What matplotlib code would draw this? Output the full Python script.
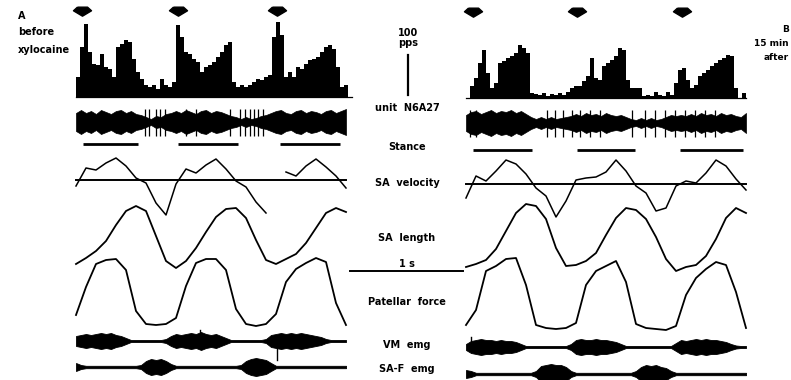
import numpy as np
import matplotlib.pyplot as plt

#%% Data

PX_PER_S = 113.0            # chart speed: 1 s scale bar
PX_PER_PPS = 0.4            # 100 pps scale bar
BIN_DT = 4 / PX_PER_S       # rate histogram bin
CURVE_DT = 10 / PX_PER_S    # sampling of slow traces
EMG_DT = 5 / PX_PER_S       # sampling of emg envelopes

# foot contact markers, s
contact_A = [0.053, 0.903, 1.779]
contact_B = [0.062, 0.982, 1.912]

# stance phases (on, off), s
stance_A = [(0.062, 0.549), (0.903, 1.434), (1.805, 2.336)]
stance_B = [(0.062, 0.584), (0.982, 1.496), (1.894, 2.451)]

# instantaneous firing rate of unit N6A27, pps
rate_A = [50, 125, 182, 112, 82, 80, 108, 75, 70, 50,
          125, 132, 142, 138, 95, 62, 45, 30, 25, 30,
          20, 45, 30, 25, 38, 180, 150, 112, 108, 95,
          88, 62, 75, 80, 88, 100, 112, 130, 138, 38,
          25, 30, 25, 30, 38, 45, 42, 50, 55, 150,
          188, 155, 50, 62, 50, 75, 70, 82, 92, 95,
          100, 112, 125, 130, 120, 75, 25, 30, 0]
rate_B = [0, 30, 50, 88, 120, 62, 25, 38, 88, 92,
          100, 105, 112, 132, 125, 112, 12, 10, 8, 12,
          5, 10, 8, 12, 8, 15, 25, 30, 30, 42,
          55, 100, 50, 45, 80, 88, 95, 105, 125, 120,
          45, 25, 25, 25, 5, 8, 5, 15, 8, 5,
          15, 8, 38, 70, 75, 45, 25, 32, 55, 62,
          70, 80, 88, 95, 100, 108, 105, 25, 0, 12]

# unit record envelope (half height) and isolated spikes
unit_A = [9, 12, 9, 11, 8, 12, 10, 8, 11, 12, 9, 11, 8, 7,
          5, 3, 6, 5, 8,
          9, 11, 9, 12, 10, 8, 11, 12, 9, 11, 10, 8,
          6,
          5, 3, 5, 3, 4, 6,
          7,
          9, 11, 12, 9, 8, 11, 12, 9, 11, 10, 8, 11, 12, 9, 11, 13]
unit_B = [8, 11, 12, 9, 11, 13, 10, 12, 11, 13, 10, 12, 9,
          6, 4, 6, 4, 6, 4, 5, 6,
          7, 9, 7, 10, 8, 9, 7, 10, 8, 7, 8, 6,
          4, 3, 5, 3, 5, 3, 4,
          6, 8, 7, 8, 7, 9, 7, 10, 8, 9, 7, 10, 8, 9, 7, 6, 10]
unit_spikes_A = [0.611, 0.646, 0.708, 0.743, 0.788, 0.973, 1.062, 1.363,
                 1.451, 1.496, 1.540, 1.575, 1.611, 1.655]
unit_spikes_B = [0.035, 0.088, 0.717, 0.788, 0.858, 0.938, 1.009, 1.097,
                 1.186, 1.469, 1.584, 1.673, 1.761, 1.850, 1.938, 2.027,
                 2.115, 2.204]

# SA velocity, SA length, patellar force (deflection, arbitrary units)
velocity_A = [-6, 12, 10, 17, 22, 14, 2, -3, -23, -35, -4, 11, 7, 15, 21,
              11, -1, -7, -22, -33, np.nan, 8, 4, 14, 21, 13, 4, -8]
velocity_B = [-14, 8, 3, 13, 24, 20, 10, -4, -12, -33, -17, 4, 6, 7, 12,
              24, 13, -2, -9, -27, -24, -2, 3, 1, 11, 24, 18, 5, -6]
length_A = [6, 12, 19, 29, 45, 59, 64, 59, 34, 9, 2, 9, 22, 38, 53, 61, 62,
            52, 30, 10, 6, 11, 16, 27, 42, 57, 62, 58]
length_B = [3, 6, 10, 21, 39, 57, 66, 64, 51, 22, 4, 5, 9, 17, 35, 52, 62,
            60, 51, 33, 11, -1, 3, 5, 14, 31, 52, 62, 57]
force_A = [15, 43, 66, 70, 71, 60, 19, 6, 5, 6, 12, 44, 67, 71, 71, 60, 21,
           6, 4, 6, 16, 48, 61, 67, 72, 68, 27, 5]
force_B = [5, 20, 59, 64, 71, 72, 45, 5, 2, 1, 2, 7, 45, 59, 64, 69, 48, 6,
           2, 1, 0, 4, 35, 52, 61, 68, 65, 38, 2]

# emg envelopes (half height)
vm_A = [5, 6, 7, 6, 7, 8, 7, 8, 6, 5, 3,
        1, 1, 1, 1, 1, 1, 1, 2,
        5, 7, 6, 7, 8, 7, 9, 7, 6, 7, 5, 3,
        1, 1, 1, 1, 1, 1, 1, 2,
        6, 7, 8, 7, 8, 7, 8, 7, 6, 5, 4, 2,
        1, 1, 1, 1]
vm_B = [3, 6, 7, 8, 7, 7, 6, 7, 6, 6, 5, 3, 1,
        1, 1, 1, 1, 1, 1, 1, 1,
        3, 7, 8, 7, 7, 8, 7, 7, 6, 5, 3,
        1, 1, 1, 1, 1, 1, 1, 1, 1, 1,
        4, 7, 6, 7, 8, 7, 8, 7, 7, 6, 5, 3,
        1.5, 1, 1]
vm_spikes_A = [(1.097, 11), (1.779, -19)]
vm_spikes_B = [(0.044, 10)]
saf_A = [4, 2, 1.2, 1.2, 1.2, 1.2, 1.2, 1.2, 1.2, 1.2, 1.2, 1.2, 1.2,
         2, 6, 8, 7, 8, 6, 3,
         1.2, 1.2, 1.2, 1.2, 1.2, 1.2, 1.2, 1.2, 1.2, 1.2, 1.2, 1.2, 1.2,
         2, 6, 8, 9, 8, 7, 4,
         1.2, 1.2, 1.2, 1.2, 1.2, 1.2, 1.2, 1.2, 1.2, 1.2, 1.2, 1.2, 1.2, 1.2, 1.2]
saf_B = [4, 3, 1.2, 1.2, 1.2, 1.2, 1.2, 1.2, 1.2, 1.2, 1.2, 1.2, 1.2, 1.2,
         3, 8, 9, 10, 9, 9, 7, 3,
         1.2, 1.2, 1.2, 1.2, 1.2, 1.2, 1.2, 1.2, 1.2, 1.2, 1.2, 1.2,
         3, 7, 9, 8, 9, 7, 6, 3,
         1.2, 1.2, 1.2, 1.2, 1.2, 1.2, 1.2, 1.2, 1.2, 1.2, 1.2, 1.2, 1.2, 1.2, 1.2]

trace_labels = ['unit  N6A27', 'Stance', 'SA  velocity', 'SA  length',
                'Patellar  force', 'VM  emg', 'SA-F  emg']

#%% Layout (pixels of the 791 x 380 figure)

W, H = 791, 380
rows_A = dict(arrow=11, hist=97, unit=122, stance=144, velocity=180,
              length=270, force=330, vm=341, saf=367)
rows_B = dict(arrow=12, hist=98, unit=123, stance=150, velocity=184,
              length=270, force=330, vm=347, saf=374)
label_y = [108, 147, 183, 238, 302, 345, 369]

# downward pointing foot-contact marker, wider than tall
arrow_verts = [(-0.28, 0.24), (0.28, 0.24), (0.5, 0.04), (0, -0.26),
               (-0.5, 0.04), (-0.28, 0.24)]

fig = plt.figure(figsize=(W / 100, H / 100), dpi=100)
fig.patch.set_facecolor('white')


def panel_axes(px_left, px_right, px_t0):
    ax = fig.add_axes([px_left / W, 0, (px_right - px_left) / W, 1])
    ax.set_xlim((px_left - px_t0) / PX_PER_S, (px_right - px_t0) / PX_PER_S)
    ax.set_ylim(H, 0)
    ax.axis('off')
    ax.patch.set_alpha(0)
    return ax


def draw_panel(ax, rows, contact, stance, rate, unit, unit_spikes,
               velocity, length, force, vm, vm_spikes, saf):
    k = 'black'
    # foot contact markers
    ax.plot(contact, [rows['arrow']] * len(contact), ls='none',
            marker=arrow_verts, ms=13, color=k)

    # rate histogram
    rate = np.array(rate, dtype=float)
    tb = (np.arange(len(rate)) + 0.5) * BIN_DT
    ax.bar(tb, -rate * PX_PER_PPS, bottom=rows['hist'], width=BIN_DT * 0.88,
           color=k, linewidth=0)
    ax.plot([0, len(rate) * BIN_DT], [rows['hist']] * 2, color=k, lw=0.9)

    # unit record
    unit = np.array(unit, dtype=float)
    te = np.arange(len(unit)) * EMG_DT
    ax.fill_between(te, rows['unit'] - unit, rows['unit'] + unit,
                    color=k, lw=0.5)
    ax.vlines(unit_spikes, rows['unit'] - 13, rows['unit'] + 14, color=k, lw=0.9)

    # stance bars
    for on, off in stance:
        ax.plot([on, off], [rows['stance']] * 2, color=k, lw=2.0,
                solid_capstyle='butt')

    # SA velocity with zero line
    v = np.array(velocity, dtype=float)
    tc = np.arange(len(v)) * CURVE_DT
    ax.plot([tc[0], tc[-1]], [rows['velocity']] * 2, color=k, lw=1.4)
    ax.plot(tc, rows['velocity'] - v, color=k, lw=1.1)

    # SA length
    ln = np.array(length, dtype=float)
    ax.plot(np.arange(len(ln)) * CURVE_DT, rows['length'] - ln, color=k, lw=1.3)

    # patellar force
    f = np.array(force, dtype=float)
    ax.plot(np.arange(len(f)) * CURVE_DT, rows['force'] - f, color=k, lw=1.3)

    # VM emg
    vm = np.array(vm, dtype=float)
    te = np.arange(len(vm)) * EMG_DT
    ax.fill_between(te, rows['vm'] - vm, rows['vm'] + vm, color=k, lw=0.6)
    for ts, amp in vm_spikes:
        ax.plot([ts, ts], [rows['vm'], rows['vm'] - amp], color=k, lw=1.0)

    # SA-F emg
    saf = np.array(saf, dtype=float)
    te = np.arange(len(saf)) * EMG_DT
    ax.fill_between(te, rows['saf'] - saf, rows['saf'] + saf, color=k, lw=0.6)


ax_A = panel_axes(0, 470, 76)
ax_B = panel_axes(440, W, 466)

draw_panel(ax_A, rows_A, contact_A, stance_A, rate_A, unit_A, unit_spikes_A,
           velocity_A, length_A, force_A, vm_A, vm_spikes_A, saf_A)
draw_panel(ax_B, rows_B, contact_B, stance_B, rate_B, unit_B, unit_spikes_B,
           velocity_B, length_B, force_B, vm_B, vm_spikes_B, saf_B)

# calibration: 1 s and 100 pps
scale_t0 = 2.425
ax_A.plot([scale_t0, scale_t0 + 1.0], [271, 271], color='black', lw=1.4)
pps_t = 2.94
ax_A.plot([pps_t, pps_t], [95, 95 - 100 * PX_PER_PPS], color='black', lw=1.6)

#%% Text

ax_t = fig.add_axes([0, 0, 1, 1])
ax_t.set_xlim(0, W)
ax_t.set_ylim(H, 0)
ax_t.axis('off')
ax_t.patch.set_alpha(0)

tk = dict(fontsize=7, fontweight='bold', color='black', family='DejaVu Sans')
for lab, y in zip(trace_labels, label_y):
    ax_t.text(407, y, lab, ha='center', va='center', **tk)
ax_t.text(408, 33, '100', ha='center', va='center', **tk)
ax_t.text(408, 43, 'pps', ha='center', va='center', **tk)
ax_t.text(407, 264, '1 s', ha='center', va='center', **tk)

ax_t.text(18, 16, 'A', ha='left', va='center', **tk)
ax_t.text(18, 32, 'before', ha='left', va='center', **tk)
ax_t.text(18, 50, 'xylocaine', ha='left', va='center', **tk)

tr = dict(tk, fontsize=6.5)
ax_t.text(789, 29, 'B', ha='right', va='center', **tr)
ax_t.text(789, 44, '15 min', ha='right', va='center', **tr)
ax_t.text(789, 57, 'after', ha='right', va='center', **tr)

fig.savefig('out.png', dpi=100, facecolor='white')
